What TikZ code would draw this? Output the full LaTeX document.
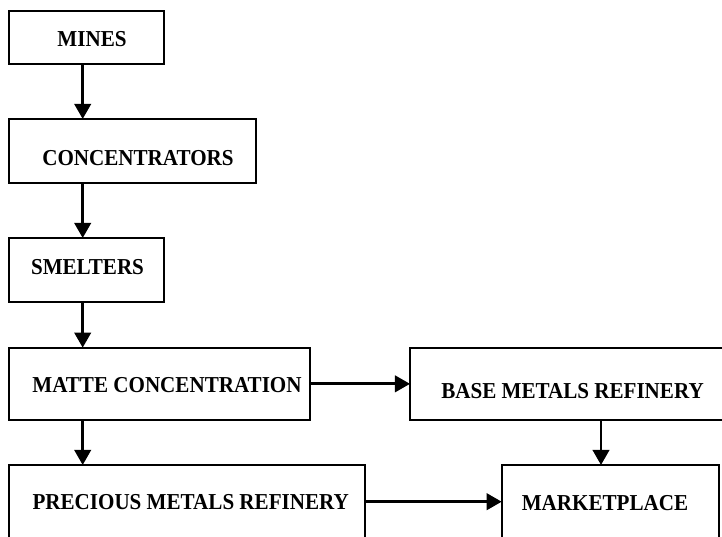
\documentclass[tikz,border=0pt]{standalone}
\usepackage{fontspec}
\setmainfont{Liberation Serif}
\usetikzlibrary{arrows.meta}

\tikzset{
  box/.style={rectangle, draw, line width=1.2pt, inner sep=0pt, outer sep=0pt},
  lbl/.style={font=\fontsize{15}{18}\selectfont\bfseries, inner sep=0pt, text depth=0pt,
    yscale=1.08, transform shape},
  arr/.style={-{Triangle[length=10.7pt, width=11.6pt]}, line width=2.1pt}
}

\begin{document}
\begin{tikzpicture}
        \useasboundingbox (0,0) rectangle (18.05,-13.4);
        \clip (0,0) rectangle (18.05,-13.4);

        % Boxes
        \node (mines) [box, minimum width=3.868cm, minimum height=1.333cm] at (2.166,-0.934) {};
        \node (conc) [box, minimum width=6.168cm, minimum height=1.6cm] at (3.316,-3.775) {};
        \node (smelt) [box, minimum width=3.868cm, minimum height=1.6cm] at (2.166,-6.75) {};
        \node (matte) [box, minimum width=7.518cm, minimum height=1.808cm] at (3.991,-9.596) {};
        \node (base) [box, minimum width=8.125cm, minimum height=1.808cm] at (14.313,-9.596) {};
        \node (prec) [box, minimum width=8.885cm, minimum height=2.375cm] at (4.675,-12.8125) {};
        \node (market) [box, minimum width=5.44cm, minimum height=2.375cm] at (15.263,-12.8125) {};

        % Labels
        \node (mines-t) [lbl] at (2.3,-0.975) {MINES};
        \node (conc-t) [lbl] at (3.45,-3.95) {CONCENTRATORS};
        \node (smelt-t) [lbl] at (2.1875,-6.675) {SMELTERS};
        \node (matte-t) [lbl] at (4.175,-9.625) {MATTE CONCENTRATION};
        \node (base-t) [lbl] at (14.3125,-9.775) {BASE METALS REFINERY};
        \node (prec-t) [lbl] at (4.7675,-12.5425) {PRECIOUS METALS REFINERY};
        \node (market-t) [lbl] at (15.125,-12.5675) {MARKETPLACE};

        % Guides for the arrows
        \coordinate (spine) at (2.0675,0);
        \coordinate (drop) at (15.025,0);
        \coordinate (row) at (0,-12.5425);

        % Directed Edges
        \draw[arr] (mines.south -| spine) -- (conc.north -| spine);
        \draw[arr] (conc.south -| spine) -- (smelt.north -| spine);
        \draw[arr] (smelt.south -| spine) -- (matte.north -| spine);
        \draw[arr] (matte.south -| spine) -- (prec.north -| spine);
        \draw[arr] (matte.east) -- (base.west);
        \draw[arr] (base.south -| drop) -- (market.north -| drop);
        \draw[arr] (prec.east |- row) -- (market.west |- row);
    \end{tikzpicture}
\end{document}
